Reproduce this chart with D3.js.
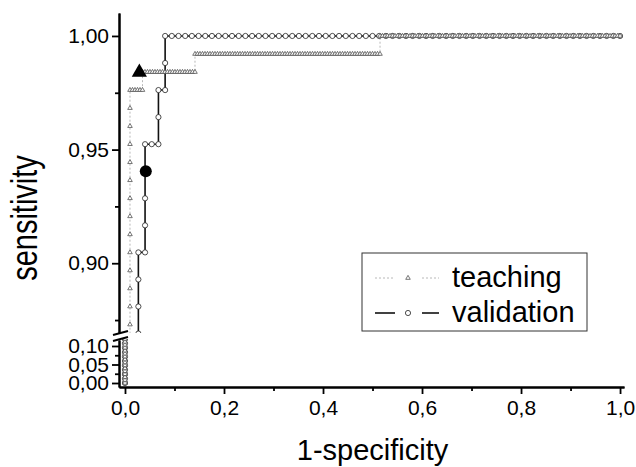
<!DOCTYPE html>
<html>
<head>
<meta charset="utf-8">
<script src="https://cdn.jsdelivr.net/npm/d3@7"></script>
<style>
  body { margin: 0; background: #fff; }
  svg { display: block; font-family: 'Liberation Sans', Arial, sans-serif; }
</style>
</head>
<body>
<div id="chart"></div>
<script>
(function(d3) {
  'use strict';

  // ROC curves as step corners, counted in negatives (fp) and positives (tp)
  var teachNeg = 198, teachPos = 126;
  var teachFp = [0, 0, 2, 2, 7, 7, 28, 28, 102, 102, 198];
  var teachTp = [0, 60, 60, 123, 123, 124, 124, 125, 125, 126, 126];

  var valNeg = 74, valPos = 84;
  var valFp = [0, 0, 2, 2, 3, 3, 5, 5, 6, 6, 74];
  var valTp = [0, 60, 60, 76, 76, 80, 80, 82, 82, 84, 84];

  // chosen cut-off points (big markers)
  var teachCut = [0.029, 0.984];
  var valCut = [0.042, 0.9405];

  var xTicks = [0, 0.2, 0.4, 0.6, 0.8, 1.0];
  var xMinor = [0.1, 0.3, 0.5, 0.7, 0.9];
  var yTopTicks = [0.90, 0.95, 1.00];
  var yTopMinor = [0.875, 0.925, 0.975];
  var yBotTicks = [0.00, 0.05, 0.10];
  var yBotMinor = [0.025, 0.075];
  var legendLabels = ['teaching', 'validation'];

  var width = 636, height = 467;

  var comma = d3.formatLocale({ decimal: ',', thousands: '.', grouping: [3], currency: ['', ''] });
  var fmt1 = comma.format('.1f');
  var fmt2 = comma.format('.2f');

  var x = d3.scaleLinear().domain([-0.0121, 1.008]).range([119, 624]);
  var yTop = d3.scaleLinear().domain([0.8693, 1.0101]).range([333, 13]);
  var yBot = d3.scaleLinear().domain([-0.0108, 0.1162]).range([387, 340]);

  var svg = d3.select('#chart')
    .append('svg')
    .attr('width', width)
    .attr('height', height);

  var defs = svg.append('defs');
  defs.append('clipPath').attr('id', 'clipTop')
    .append('rect')
    .attr('x', x.range()[0]).attr('y', 0)
    .attr('width', width - x.range()[0]).attr('height', yTop.range()[0]);
  defs.append('clipPath').attr('id', 'clipBot')
    .append('rect')
    .attr('x', x.range()[0]).attr('y', yBot.range()[1] - 1)
    .attr('width', width - x.range()[0]).attr('height', height - yBot.range()[1]);

  function expand(fp, tp, nNeg, nPos) {
    var pts = [[fp[0] / nNeg, tp[0] / nPos]];
    for (var i = 1; i < fp.length; i++) {
      var df = fp[i] - fp[i - 1], dt = tp[i] - tp[i - 1];
      var n = Math.max(Math.abs(df), Math.abs(dt));
      for (var k = 1; k <= n; k++) {
        pts.push([(fp[i - 1] + df * k / n) / nNeg, (tp[i - 1] + dt * k / n) / nPos]);
      }
    }
    return pts;
  }

  var teachPts = expand(teachFp, teachTp, teachNeg, teachPos);
  var valPts = expand(valFp, valTp, valNeg, valPos);
  var teachCorners = teachFp.map(function(d, i) { return [d / teachNeg, teachTp[i] / teachPos]; });
  var valCorners = valFp.map(function(d, i) { return [d / valNeg, valTp[i] / valPos]; });

  var triSmall = d3.symbol().type(d3.symbolTriangle).size(9);
  var triBig = d3.symbol().type(d3.symbolTriangle).size(100);

  var panels = [{ y: yTop, clip: 'url(#clipTop)' }, { y: yBot, clip: 'url(#clipBot)' }];

  panels.forEach(function(p) {
    var g = svg.append('g').attr('clip-path', p.clip);
    var line = d3.line()
      .x(function(d) { return x(d[0]); })
      .y(function(d) { return p.y(d[1]); });

    g.append('path')
      .attr('d', line(valCorners))
      .attr('fill', 'none')
      .attr('stroke', '#111')
      .attr('stroke-width', 1.6);

    g.append('path')
      .attr('d', line(teachCorners))
      .attr('fill', 'none')
      .attr('stroke', '#b8b8b8')
      .attr('stroke-width', 1)
      .attr('stroke-dasharray', '2,2');

    g.selectAll('.vm')
      .data(valPts)
      .enter()
      .append('circle')
      .attr('cx', function(d) { return x(d[0]); })
      .attr('cy', function(d) { return p.y(d[1]); })
      .attr('r', 2.6)
      .attr('fill', '#fff')
      .attr('stroke', '#222')
      .attr('stroke-width', 0.8);

    g.selectAll('.tm')
      .data(teachPts)
      .enter()
      .append('path')
      .attr('d', triSmall)
      .attr('transform', function(d) { return 'translate(' + x(d[0]) + ',' + p.y(d[1]) + ')'; })
      .attr('fill', '#fff')
      .attr('stroke', '#4a4a4a')
      .attr('stroke-width', 0.75);
  });

  // big cut-off markers
  svg.append('path')
    .attr('d', triBig)
    .attr('transform', 'translate(' + x(teachCut[0]) + ',' + yTop(teachCut[1]) + ')')
    .attr('fill', '#000');
  svg.append('circle')
    .attr('cx', x(valCut[0]))
    .attr('cy', yTop(valCut[1]))
    .attr('r', 6)
    .attr('fill', '#000');

  // axes
  function styleAxis(g) {
    g.selectAll('.domain').attr('stroke', '#000').attr('stroke-width', 2);
    g.selectAll('.tick line').attr('stroke', '#000').attr('stroke-width', 1.8);
    g.selectAll('.tick text')
      .attr('fill', '#000')
      .style('font-size', '21px')
      .style('font-family', "'Liberation Sans', Arial, sans-serif");
  }

  var xAxisY = yBot.range()[0];
  var axisX = x.range()[0];

  svg.append('g')
    .attr('transform', 'translate(0,' + xAxisY + ')')
    .call(d3.axisBottom(x).tickValues(xTicks).tickFormat(fmt1).tickSize(7).tickSizeOuter(0).tickPadding(6))
    .call(styleAxis);
  svg.append('g')
    .attr('transform', 'translate(0,' + xAxisY + ')')
    .call(d3.axisBottom(x).tickValues(xMinor).tickFormat('').tickSize(4).tickSizeOuter(0))
    .call(styleAxis);

  [[yTop, yTopTicks, yTopMinor], [yBot, yBotTicks, yBotMinor]].forEach(function(a) {
    svg.append('g')
      .attr('transform', 'translate(' + axisX + ',0)')
      .call(d3.axisLeft(a[0]).tickValues(a[1]).tickFormat(fmt2).tickSize(7).tickSizeOuter(0).tickPadding(3))
      .call(styleAxis);
    svg.append('g')
      .attr('transform', 'translate(' + axisX + ',0)')
      .call(d3.axisLeft(a[0]).tickValues(a[2]).tickFormat('').tickSize(4).tickSizeOuter(0))
      .call(styleAxis);
  });

  // axis break marks
  [yTop.range()[0], yBot.range()[1]].forEach(function(yy, i) {
    svg.append('line')
      .attr('x1', axisX - 6).attr('y1', yy + 2 - i * 1)
      .attr('x2', axisX + 9).attr('y2', yy - 2 - i * 1)
      .attr('stroke', '#000')
      .attr('stroke-width', 2);
  });

  // axis titles
  svg.append('text')
    .attr('transform', 'translate(37,' + 218 + ') rotate(-90) scale(1,1.25)')
    .attr('text-anchor', 'middle')
    .style('font-size', '29px')
    .text('sensitivity');
  svg.append('text')
    .attr('x', (x(0) + x(1)) / 2)
    .attr('y', 460)
    .attr('text-anchor', 'middle')
    .style('font-size', '29px')
    .text('1-specificity');

  // legend
  var legend = svg.append('g').attr('transform', 'translate(362,253)');
  legend.append('rect')
    .attr('width', 225)
    .attr('height', 78)
    .attr('fill', '#fff')
    .attr('stroke', '#333')
    .attr('stroke-width', 1);

  legendLabels.forEach(function(label, i) {
    var row = legend.append('g').attr('transform', 'translate(0,' + (25 + i * 35) + ')');
    var stroke = i === 0 ? '#b8b8b8' : '#111';
    [[13, 33], [60, 77]].forEach(function(s) {
      row.append('line')
        .attr('x1', s[0]).attr('x2', s[1])
        .attr('stroke', stroke)
        .attr('stroke-width', i === 0 ? 1 : 1.6)
        .attr('stroke-dasharray', i === 0 ? '2,2' : null);
    });
    if (i === 0) {
      row.append('path')
        .attr('d', triSmall)
        .attr('transform', 'translate(46,0)')
        .attr('fill', '#fff')
        .attr('stroke', '#4a4a4a')
        .attr('stroke-width', 0.75);
    } else {
      row.append('circle')
        .attr('cx', 46)
        .attr('r', 2.6)
        .attr('fill', '#fff')
        .attr('stroke', '#222')
        .attr('stroke-width', 0.8);
    }
    row.append('text')
      .attr('x', 90)
      .attr('y', 9)
      .style('font-size', '29px')
      .text(label);
  });
})(window.d3);
</script>
</body>
</html>
